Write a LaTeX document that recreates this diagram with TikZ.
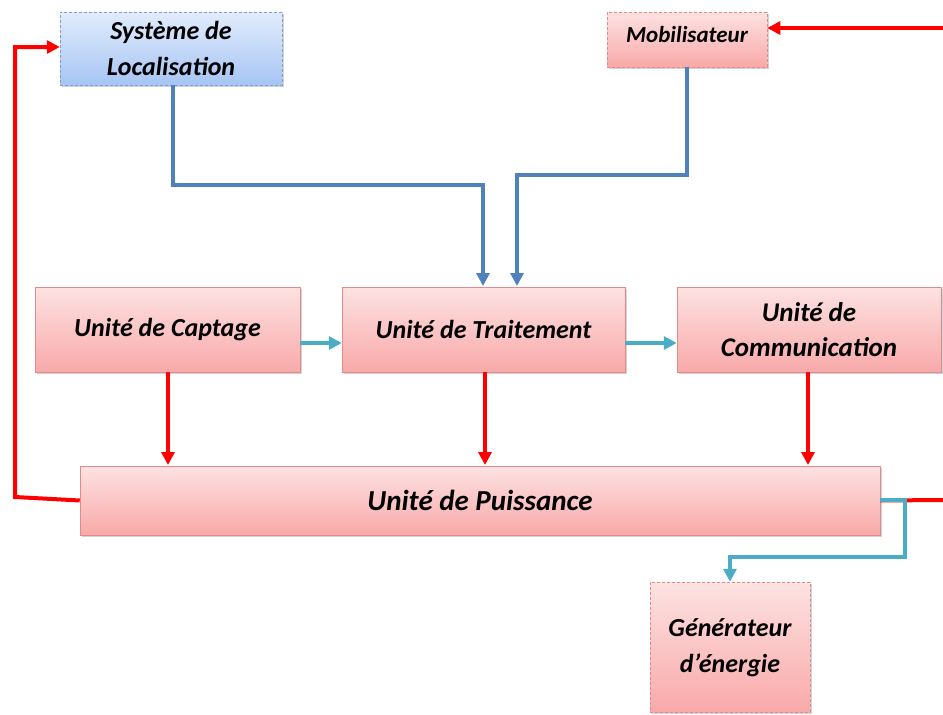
\documentclass[tikz,border=0pt]{standalone}
\usepackage{fontspec}
\setmainfont{Carlito}
\usetikzlibrary{arrows.meta,shadows}
\definecolor{pinktop}{HTML}{FDE2E2}
\definecolor{pinkbot}{HTML}{F9A9A9}
\definecolor{pinkline}{HTML}{E08A8A}
\definecolor{bluetop}{HTML}{E2ECFC}
\definecolor{bluebot}{HTML}{A6C5F4}
\definecolor{blueline}{HTML}{7F9FCF}
\definecolor{redline}{HTML}{FF0000}
\definecolor{steel}{HTML}{4F81BD}
\definecolor{aqua}{HTML}{4BACC6}
\tikzset{
  unitbox/.style={rectangle, inner sep=0pt, top color=pinktop, bottom color=pinkbot,
    draw=pinkline, line width=0.5pt, drop shadow={opacity=0.35, shadow xshift=1.5pt, shadow yshift=-1.5pt},
    align=center, font=\bfseries\itshape\fontsize{26}{35}\selectfont},
  dashbox/.style={unitbox, dashed, dash pattern=on 3pt off 2pt},
  bluebox/.style={dashbox, top color=bluetop, bottom color=bluebot, draw=blueline},
  redarrow/.style={draw=redline, line width=4pt, -{Triangle[length=13pt,width=13pt]}},
  redline/.style={draw=redline, line width=4pt},
  steelarrow/.style={draw=steel, line width=4.5pt, -{Triangle[length=13pt,width=13pt]}},
  aquaarrow/.style={draw=aqua, line width=4pt, -{Triangle[length=13pt,width=13pt]}},
}
\begin{document}
\begin{tikzpicture}[x=1pt,y=-1pt]
\useasboundingbox (0,0) rectangle (943,715);

% top row
\node[bluebox, minimum width=222pt, minimum height=73pt, font=\bfseries\itshape\fontsize{26}{36}\selectfont]
  (loc) at (171,48.5) {Système de\\Localisation};
\node[dashbox, minimum width=160pt, minimum height=55pt, font=\bfseries\itshape\fontsize{23}{28}\selectfont,
  text depth=0pt]
  (mob) at (687,39.5) {\raisebox{11pt}{Mobilisateur}};

% middle row
\node[unitbox, minimum width=265pt, minimum height=85pt] (capt) at (167.5,329.5) {Unité de Captage};
\node[unitbox, minimum width=283pt, minimum height=85pt] (trait) at (483.5,329.5) {Unité de Traitement};
\node[unitbox, minimum width=264pt, minimum height=85pt, font=\bfseries\itshape\fontsize{27}{35}\selectfont]
  (comm) at (809,329.5) {Unité de\\Communication};

% power unit
\node[unitbox, minimum width=800pt, minimum height=69pt, font=\bfseries\itshape\fontsize{29}{34}\selectfont]
  (puis) at (480,500.5) {Unité de Puissance};

% energy source
\node[dashbox, minimum width=160pt, minimum height=130pt, font=\bfseries\itshape\fontsize{26}{36}\selectfont]
  (gen) at (730,647) {\raisebox{-5pt}{\begin{tabular}{@{}c@{}}Générateur\\d’énergie\end{tabular}}};

% free ends at the page border
\coordinate (mobin) at (943,28);
\coordinate (puisout) at (943,500);

% red feedback lines
\draw[redarrow] (puis.west) -- (15,497) |- (loc.west |- 0,47);
\draw[redarrow] (mobin) -- (mob.east |- mobin);
\draw[redline] (puis.east) -- (puisout);

% blue lines into the processing unit
\draw[steelarrow] (173,85) |- (483,185) -- (483,286);
\draw[steelarrow] (687,67) |- (517,175) -- (517,286);

% data flow between units
\draw[aquaarrow] (capt.east |- 0,343) -- (trait.west |- 0,343);
\draw[aquaarrow] (trait.east |- 0,343) -- (comm.west |- 0,343);

% power supply arrows
\draw[redarrow] (168,372) -- (168,465);
\draw[redarrow] (485,372) -- (485,465);
\draw[redarrow] (808,372) -- (808,465);

% link to the energy generator
\draw[aquaarrow] (puis.east |- 0,500) -- (905,500) |- (730,557) -- (gen.north -| 730,0);
\end{tikzpicture}
\end{document}
